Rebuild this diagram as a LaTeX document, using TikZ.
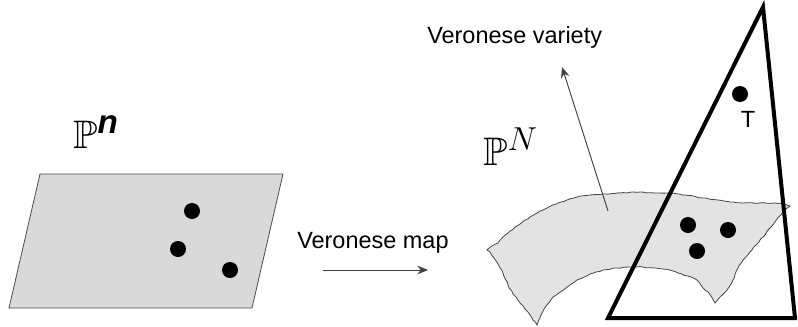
\documentclass[tikz,border=0pt]{standalone}
\usepackage{amsmath,amssymb}
\usepackage{fontspec}
\setmainfont{Liberation Sans}
\usetikzlibrary{arrows.meta,decorations.pathmorphing}

\begin{document}
\begin{tikzpicture}[x=0.75pt, y=-0.75pt,
    every node/.style={font=\fontsize{17.6}{19}\selectfont, inner sep=0pt},
    bigsym/.style={font=\fontsize{24.88}{28}\selectfont},
    pt/.style={circle, fill=black, minimum size=12pt},
    sheet/.style={fill=gray!30, draw=gray!60!black, line width=0.6pt},
    band/.style={fill=gray!22, draw=gray!55!black, line width=0.6pt,
                 decorate, decoration={random steps, segment length=2.5pt, amplitude=0.35pt}},
    simplex/.style={draw=black, line width=3pt, line join=miter},
    arr/.style={-{Stealth[length=8pt, width=6.5pt]}, draw=black!75, line width=0.7pt}
]
  \useasboundingbox (0,0) rectangle (798,326);

  % projective space P^n with three points
  \draw[sheet] (40,174) -- (283,174) -- (252,308) -- (9,308) -- cycle;
  \node[bigsym, anchor=base west] (pn) at (73,148)
    {\scalebox{1.2}{$\mathbb{P}^{\text{\bfseries\itshape n}}$}};
  \node[pt] (a1) at (192,211) {};
  \node[pt] (a2) at (178,249) {};
  \node[pt] (a3) at (230,270) {};

  % the map
  \node[anchor=base west] (map) at (297,248) {Veronese map};
  \coordinate (m0) at (323,270);
  \coordinate (m1) at (428,270);
  \draw[arr] (m0) -- (m1);

  % Veronese variety in P^N
  \draw[band] (487,250) -- (492,246) -- (498,243) -- (503,237) -- (510,231)
    -- (520,224) -- (530,217) -- (537,213) -- (547,208) -- (558,203)
    -- (567,200) -- (577,197) -- (590,195) -- (605,194) -- (620,193)
    -- (640,192) -- (655,193) -- (670,193) -- (685,195) -- (703,198)
    -- (718,200) -- (730,202) -- (743,203) -- (760,203) -- (775,203)
    -- (783,203) -- (790,206) -- (786,209) -- (783,212) -- (775,222)
    -- (768,230) -- (763,237) -- (756,245) -- (750,252) -- (743,260)
    -- (738,268) -- (733,280) -- (727,290) -- (720,297) -- (715,303)
    -- (711,296) -- (708,292) -- (705,290) -- (701,285) -- (697,280)
    -- (688,276) -- (678,273) -- (670,270) -- (655,268) -- (643,267)
    -- (630,267) -- (617,268) -- (603,270) -- (590,274) -- (577,280)
    -- (566,288) -- (553,297) -- (546,306) -- (541,315) -- (537,325)
    -- (532,318) -- (527,311) -- (520,303) -- (513,294) -- (508,285)
    -- (503,273) -- (498,264) -- (494,258) -- (490,252) -- cycle;
  \node[bigsym, anchor=base west] (pN) at (483,165)
    {\scalebox{1.2}{$\mathbb{P}^{N}$}};

  \node[anchor=base west] (var) at (427,43) {Veronese variety};
  \coordinate (v0) at (608,211);
  \coordinate (v1) at (562,67);
  \draw[arr] (v0) -- (v1);

  % secant simplex
  \draw[simplex] (763,7) -- (608,318) -- (795,318) -- cycle;

  \node[pt] (t) at (740,94) {};
  \node[anchor=base] (tl) at (748,127) {T};

  \node[pt] (b1) at (688,225) {};
  \node[pt] (b2) at (728,230) {};
  \node[pt] (b3) at (697,251) {};
\end{tikzpicture}
\end{document}
